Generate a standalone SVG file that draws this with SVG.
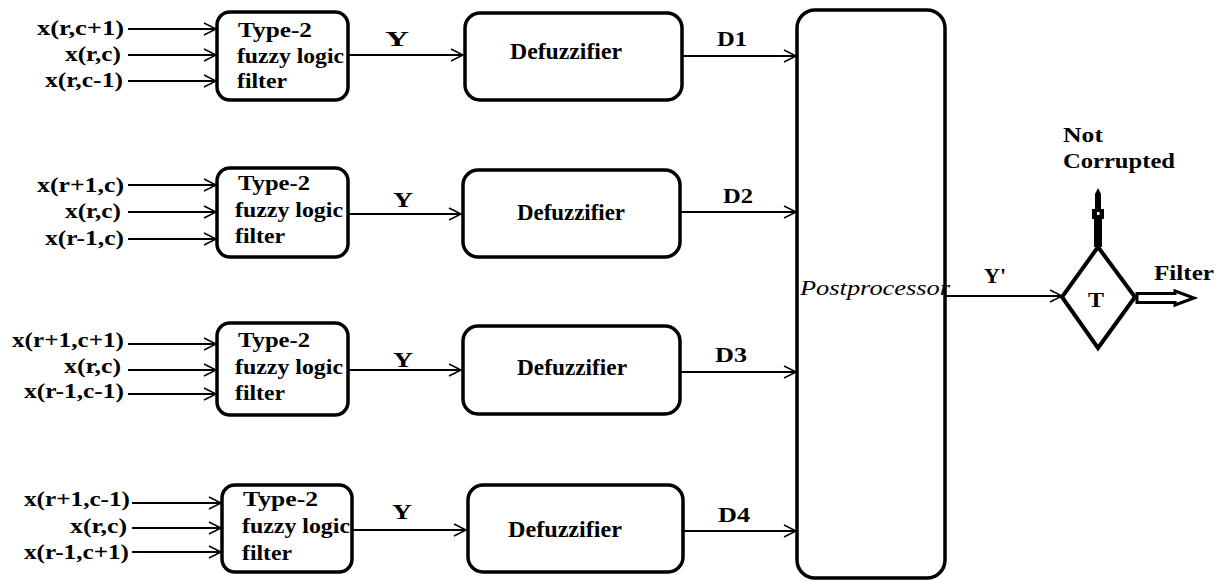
<svg xmlns="http://www.w3.org/2000/svg" width="1227" height="581" viewBox="0 0 1227 581">
  <style>
    .box { fill: #fff; stroke: #000; stroke-width: 3.5; }
    .frame { fill: none; stroke: #000; stroke-width: 3.5; }
    .wire { stroke: #000; stroke-width: 1.8; fill: none; marker-end: url(#chev); }
    .lbl { font-family: "Liberation Serif", "Times New Roman", serif; font-weight: bold; font-size: 21px; fill: #000; }
    .big { font-size: 23px; }
    .ital { font-family: "Liberation Serif", "Times New Roman", serif; font-style: italic; font-size: 21px; fill: #000; }
  </style>
  <defs>
    <marker id="chev" viewBox="0 0 15 15" markerUnits="userSpaceOnUse" markerWidth="15" markerHeight="15" refX="13" refY="7.5" orient="auto">
      <path d="M1,1.5 L13,7.5 L1,13.5" fill="none" stroke="#000" stroke-width="1.5"/>
    </marker>
  </defs>

  <rect width="1227" height="581" fill="#fff"/>

  <!-- connectors -->
  <g id="connectors">
    <!-- row 1 -->
    <line class="wire" x1="128" y1="29" x2="216" y2="29"/>
    <line class="wire" x1="128" y1="55" x2="216" y2="55"/>
    <line class="wire" x1="128" y1="81" x2="216" y2="81"/>
    <line class="wire" x1="348" y1="55" x2="463" y2="55"/>
    <line class="wire" x1="682" y1="56" x2="796" y2="56"/>
    <!-- row 2 -->
    <line class="wire" x1="128" y1="185" x2="216" y2="185"/>
    <line class="wire" x1="128" y1="212" x2="216" y2="212"/>
    <line class="wire" x1="128" y1="239" x2="216" y2="239"/>
    <line class="wire" x1="348" y1="214" x2="461" y2="214"/>
    <line class="wire" x1="680" y1="212" x2="796" y2="212"/>
    <!-- row 3 -->
    <line class="wire" x1="128" y1="344" x2="216" y2="344"/>
    <line class="wire" x1="128" y1="370" x2="216" y2="370"/>
    <line class="wire" x1="128" y1="394" x2="216" y2="394"/>
    <line class="wire" x1="348" y1="370" x2="461" y2="370"/>
    <line class="wire" x1="680" y1="372" x2="796" y2="372"/>
    <!-- row 4 -->
    <line class="wire" x1="132" y1="503" x2="221" y2="503"/>
    <line class="wire" x1="132" y1="528" x2="221" y2="528"/>
    <line class="wire" x1="132" y1="552" x2="221" y2="552"/>
    <line class="wire" x1="352" y1="530" x2="466" y2="530"/>
    <line class="wire" x1="683" y1="531" x2="796" y2="531"/>
    <!-- postprocessor to threshold -->
    <line class="wire" x1="945" y1="296" x2="1062" y2="296"/>

    <!-- edge labels -->
    <text class="lbl" x="385" y="46" textLength="24" lengthAdjust="spacingAndGlyphs">Y</text>
    <text class="lbl" x="393" y="207" textLength="20" lengthAdjust="spacingAndGlyphs">Y</text>
    <text class="lbl" x="393" y="367" textLength="20" lengthAdjust="spacingAndGlyphs">Y</text>
    <text class="lbl" x="392" y="519" textLength="20" lengthAdjust="spacingAndGlyphs">Y</text>
    <text class="lbl" x="717" y="46" textLength="30" lengthAdjust="spacingAndGlyphs">D1</text>
    <text class="lbl" x="723" y="203" textLength="30" lengthAdjust="spacingAndGlyphs">D2</text>
    <text class="lbl" x="715" y="362" textLength="32" lengthAdjust="spacingAndGlyphs">D3</text>
    <text class="lbl" x="718" y="522" textLength="32" lengthAdjust="spacingAndGlyphs">D4</text>
    <text class="lbl" x="984" y="283" textLength="22" lengthAdjust="spacingAndGlyphs">Y'</text>
  </g>

  <!-- input labels -->
  <g id="inputs-1">
    <text class="lbl" x="37" y="35" textLength="87" lengthAdjust="spacingAndGlyphs">x(r,c+1)</text>
    <text class="lbl" x="65" y="61" textLength="56" lengthAdjust="spacingAndGlyphs">x(r,c)</text>
    <text class="lbl" x="45" y="87" textLength="78" lengthAdjust="spacingAndGlyphs">x(r,c-1)</text>
  </g>
  <g id="inputs-2">
    <text class="lbl" x="37" y="192" textLength="87" lengthAdjust="spacingAndGlyphs">x(r+1,c)</text>
    <text class="lbl" x="65" y="218" textLength="56" lengthAdjust="spacingAndGlyphs">x(r,c)</text>
    <text class="lbl" x="45" y="245" textLength="79" lengthAdjust="spacingAndGlyphs">x(r-1,c)</text>
  </g>
  <g id="inputs-3">
    <text class="lbl" x="12" y="347" textLength="112" lengthAdjust="spacingAndGlyphs">x(r+1,c+1)</text>
    <text class="lbl" x="64" y="373" textLength="57" lengthAdjust="spacingAndGlyphs">x(r,c)</text>
    <text class="lbl" x="24" y="398" textLength="100" lengthAdjust="spacingAndGlyphs">x(r-1,c-1)</text>
  </g>
  <g id="inputs-4">
    <text class="lbl" x="24" y="506" textLength="106" lengthAdjust="spacingAndGlyphs">x(r+1,c-1)</text>
    <text class="lbl" x="70" y="533" textLength="57" lengthAdjust="spacingAndGlyphs">x(r,c)</text>
    <text class="lbl" x="24" y="559" textLength="105" lengthAdjust="spacingAndGlyphs">x(r-1,c+1)</text>
  </g>

  <!-- fuzzy logic filters -->
  <g id="filter-1">
    <rect class="box" x="217" y="12" width="131" height="88" rx="13"/>
    <text class="lbl" x="238" y="37" textLength="74" lengthAdjust="spacingAndGlyphs">Type-2</text>
    <text class="lbl" x="237" y="63" textLength="107" lengthAdjust="spacingAndGlyphs">fuzzy logic</text>
    <text class="lbl" x="237" y="88" textLength="50" lengthAdjust="spacingAndGlyphs">filter</text>
  </g>
  <g id="filter-2">
    <rect class="box" x="217" y="168" width="131" height="89" rx="13"/>
    <text class="lbl" x="238" y="190" textLength="72" lengthAdjust="spacingAndGlyphs">Type-2</text>
    <text class="lbl" x="235" y="217" textLength="108" lengthAdjust="spacingAndGlyphs">fuzzy logic</text>
    <text class="lbl" x="235" y="243" textLength="50" lengthAdjust="spacingAndGlyphs">filter</text>
  </g>
  <g id="filter-3">
    <rect class="box" x="217" y="323" width="131" height="92" rx="13"/>
    <text class="lbl" x="238" y="347" textLength="72" lengthAdjust="spacingAndGlyphs">Type-2</text>
    <text class="lbl" x="235" y="374" textLength="108" lengthAdjust="spacingAndGlyphs">fuzzy logic</text>
    <text class="lbl" x="235" y="400" textLength="50" lengthAdjust="spacingAndGlyphs">filter</text>
  </g>
  <g id="filter-4">
    <rect class="box" x="222" y="485" width="130" height="87" rx="13"/>
    <text class="lbl" x="243" y="506" textLength="75" lengthAdjust="spacingAndGlyphs">Type-2</text>
    <text class="lbl" x="242" y="533" textLength="108" lengthAdjust="spacingAndGlyphs">fuzzy logic</text>
    <text class="lbl" x="242" y="560" textLength="50" lengthAdjust="spacingAndGlyphs">filter</text>
  </g>

  <!-- defuzzifiers -->
  <g id="defuzzifier-1">
    <rect class="box" x="465" y="13" width="217" height="87" rx="15"/>
    <text class="lbl big" x="510" y="59" textLength="112" lengthAdjust="spacingAndGlyphs">Defuzzifier</text>
  </g>
  <g id="defuzzifier-2">
    <rect class="box" x="463" y="170" width="217" height="87" rx="15"/>
    <text class="lbl big" x="517" y="220" textLength="108" lengthAdjust="spacingAndGlyphs">Defuzzifier</text>
  </g>
  <g id="defuzzifier-3">
    <rect class="box" x="463" y="326" width="217" height="88" rx="15"/>
    <text class="lbl big" x="517" y="375" textLength="110" lengthAdjust="spacingAndGlyphs">Defuzzifier</text>
  </g>
  <g id="defuzzifier-4">
    <rect class="box" x="468" y="485" width="215" height="87" rx="15"/>
    <text class="lbl big" x="508" y="537" textLength="114" lengthAdjust="spacingAndGlyphs">Defuzzifier</text>
  </g>

  <!-- postprocessor -->
  <g id="postprocessor">
    <rect x="797" y="10" width="148" height="568" rx="18" fill="#fff"/>
    <text class="ital" x="800" y="295" textLength="150" lengthAdjust="spacingAndGlyphs">Postprocessor</text>
    <rect class="frame" x="797" y="10" width="148" height="568" rx="18"/>
  </g>

  <!-- threshold decision -->
  <g id="threshold">
    <polygon points="1098,247 1135,297 1098,348 1062,297" fill="#fff" stroke="#000" stroke-width="4" stroke-linejoin="miter"/>
    <text class="lbl" x="1088" y="307" textLength="16" lengthAdjust="spacingAndGlyphs">T</text>
  </g>

  <!-- not corrupted output -->
  <g id="not-corrupted">
    <polygon points="1094,247 1102,247 1102,219 1104,219 1104,209 1101,209 1101,194 1098,188 1095,194 1095,209 1092,209 1092,219 1094,219" fill="#000"/>
    <rect x="1097" y="212" width="2.5" height="3" fill="#fff"/>
    <text class="lbl" x="1063" y="142" textLength="40" lengthAdjust="spacingAndGlyphs">Not</text>
    <text class="lbl" x="1063" y="168" textLength="112" lengthAdjust="spacingAndGlyphs">Corrupted</text>
  </g>

  <!-- filter output -->
  <g id="filter-out">
    <polygon points="1137,293.5 1175,293.5 1175,291 1194,298 1175,305 1175,302.5 1137,302.5" fill="#fff" stroke="#000" stroke-width="3" stroke-linejoin="miter"/>
    <text class="lbl" x="1154" y="280" textLength="60" lengthAdjust="spacingAndGlyphs">Filter</text>
  </g>
</svg>
